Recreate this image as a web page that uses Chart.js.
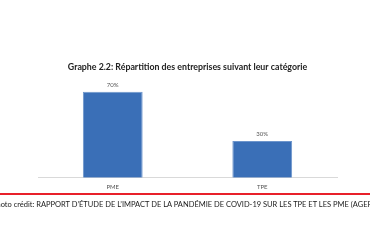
<!DOCTYPE html>
<html>
<head>
<meta charset="utf-8">
<script src="https://cdn.jsdelivr.net/npm/chart.js@4"></script>
<style>
  html, body { margin: 0; padding: 0; background: #fff; }
  body { width: 370px; height: 250px; overflow: hidden; position: relative; font-family: Lato, sans-serif; }
  #wrap { position: absolute; left: 0; top: 0; width: 370px; height: 197px; }
  #redline { position: absolute; left: 0; top: 193px; width: 370px; height: 2px; background: #e8202a; }
  #caption { position: absolute; left: -8px; top: 200px; white-space: nowrap; font-size: 7.5px; color: #1a1a1a; }
</style>
</head>
<body>
<div id="wrap"><canvas id="chart"></canvas></div>
<div id="redline"></div>
<div id="caption">Photo crédit: RAPPORT D’ÉTUDE DE L’IMPACT DE LA PANDÉMIE DE COVID-19 SUR LES TPE ET LES PME (AGER</div>
<script>
// data
var categories = ['PME', 'TPE'];
var shares = [70, 30];
var titleText = 'Graphe 2.2: Répartition des entreprises suivant leur catégorie';

// Value labels above bars
var barLabels = {
    id: 'barLabels',
    afterDatasetsDraw: function (chart) {
        var ctx = chart.ctx;
        var meta = chart.getDatasetMeta(0);
        ctx.save();
        ctx.font = '6px Lato, sans-serif';
        ctx.fillStyle = '#555';
        ctx.textAlign = 'center';
        ctx.textBaseline = 'bottom';
        meta.data.forEach(function (bar, i) {
            ctx.fillText(shares[i] + '%', bar.x, bar.y - 4);
        });
        ctx.restore();
    }
};

var ctx1 = document.getElementById('chart').getContext('2d');
var myChart1 = new Chart(ctx1, {
    type: 'bar',
    data: {
        labels: categories,
        datasets: [{
            data: shares,
            backgroundColor: '#3a6fb7',
            borderColor: '#6d95cc',
            borderWidth: 1,
            barPercentage: 0.4,
            categoryPercentage: 1
        }]
    },
    options: {
        responsive: true,
        maintainAspectRatio: false,
        animation: false,
        layout: {
            padding: {left: 38, right: 33, top: 0, bottom: 0}
        },
        plugins: {
            legend: {display: false},
            tooltip: {enabled: false},
            title: {
                display: true,
                text: titleText,
                color: '#222',
                font: {family: 'Lato, sans-serif', size: 8.8, weight: 'bold'},
                padding: {top: 62, bottom: 7}
            }
        },
        scales: {
            y: {
                display: false,
                min: 0,
                max: 80
            },
            x: {
                grid: {display: false, drawTicks: false},
                border: {display: true, color: '#d9d9d9'},
                ticks: {
                    color: '#555',
                    padding: 6,
                    font: {family: 'Lato, sans-serif', size: 6}
                }
            }
        }
    },
    plugins: [barLabels]
});
</script>
</body>
</html>
